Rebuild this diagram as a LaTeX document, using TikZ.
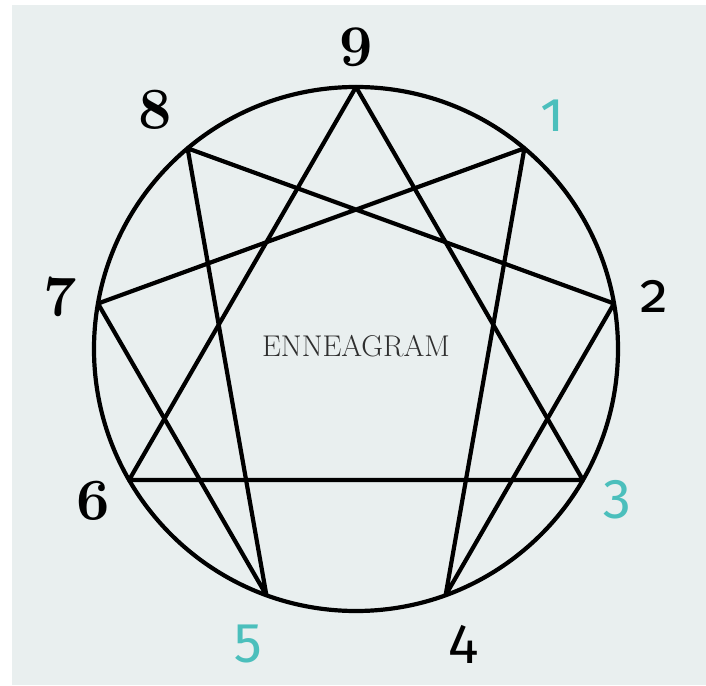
\RequirePackage{fix-cm}
\documentclass[tikz,border=0pt]{standalone}
\usepackage{fontspec}
\newfontfamily\numsansfont[Numbers=OldStyle]{Fira Sans}
\newcommand{\osnum}[1]{{\usefont{OML}{cmm}{b}{it}#1}}
\definecolor{bgpaper}{HTML}{E9EFEF}
\definecolor{tealnum}{HTML}{4BBFBC}
\definecolor{inktext}{HTML}{2E2E2E}
\begin{document}
\begin{tikzpicture}[x=1pt,y=1pt,
    vertex/.style={coordinate},
    ring/.style={draw,line width=4.2pt},
    chord/.style={draw,line width=4.2pt,line join=round},
    numserif/.style={inner sep=0pt,font=\fontsize{58}{62}\selectfont},
    numsans/.style={inner sep=0pt,font=\fontsize{56}{60}\selectfont\numsansfont}]
    \useasboundingbox (-356,-336) rectangle (350,349);
    \fill[bgpaper] (-344,-336) rectangle (350,344);
    \node[ring,circle,minimum size=524pt,inner sep=0pt] (ring) at (0,0) {};
    \foreach \i in {1,...,9}{
        \node[vertex] (v\i) at ({90-\i*40}:262) {};
    }
    % labels round the ring
    \foreach \i/\sty/\col/\r in {1/numsans/tealnum/305,2/numsans/black/303,3/numsans/tealnum/302,
        4/numsans/black/314,5/numsans/tealnum/314,6/numserif/black/303,7/numserif/black/300,
        8/numserif/black/312,9/numserif/black/302}{
        \ifnum\i>5
            \node[\sty,text=\col] (n\i) at ({90-\i*40}:\r) {\osnum{\i}};
        \else
            \node[\sty,text=\col] (n\i) at ({90-\i*40}:\r) {\i};
        \fi
    }
    \draw[chord] (v9) -- (v3) -- (v6) -- cycle;
    \draw[chord] (v1) -- (v4) -- (v2) -- (v8) -- (v5) -- (v7) -- cycle;
    \node[text=inktext,font=\fontsize{30}{34}\selectfont] (title) at (0,3) {ENNEAGRAM};
\end{tikzpicture}
\end{document}
